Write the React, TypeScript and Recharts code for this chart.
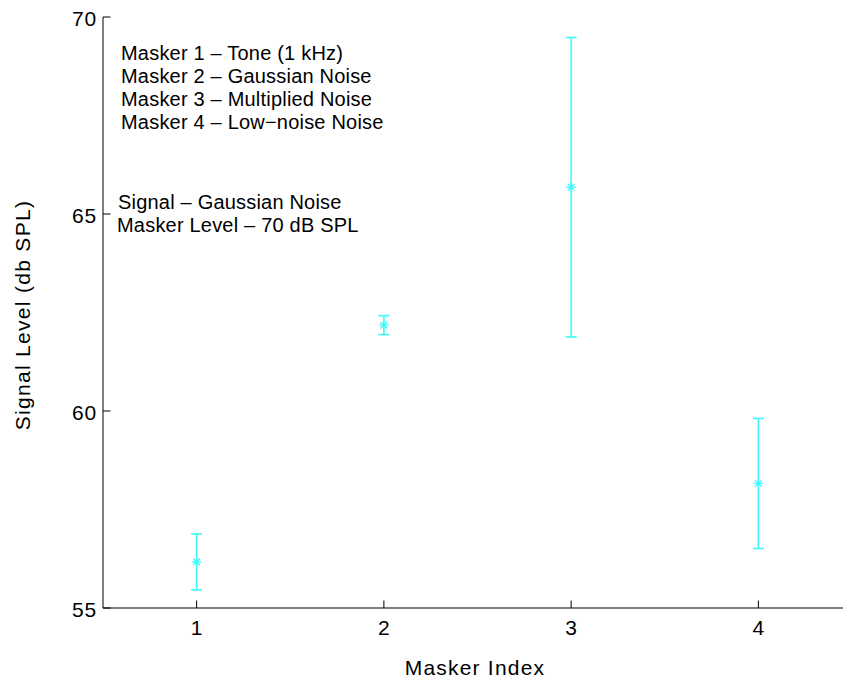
import { ScatterChart, Scatter, XAxis, YAxis, ErrorBar } from 'recharts'

const maskerIndex = [1, 2, 3, 4]
const signalLevel = [56.17, 62.18, 65.68, 58.16]
const errorHalf = [0.71, 0.24, 3.8, 1.65]
const xTicks = [1, 2, 3, 4]
const yTicks = [55, 60, 65, 70]
const maskerNotes = [
  'Masker 1 \u2013 Tone (1 kHz)',
  'Masker 2 \u2013 Gaussian Noise',
  'Masker 3 \u2013 Multiplied Noise',
  'Masker 4 \u2013 Low\u2212noise Noise',
]
const conditionNotes = ['Signal \u2013 Gaussian Noise', 'Masker Level \u2013 70 dB SPL']

const data = maskerIndex.map((x, i) => ({ x, y: signalLevel[i], err: errorHalf[i] }))

const FONT = '"Liberation Sans", Arial, Helvetica, sans-serif'
const CYAN = '#3ff9f9'
const TICK = 7.5

const BottomTick = (props: any) => {
  const { x, y, payload } = props
  return (
    <g>
      <line x1={x} y1={y} x2={x} y2={y - TICK} stroke="#000" />
      <text x={x} y={y + 27} textAnchor="middle" fontSize={21} fill="#000" fontFamily={FONT}>
        {payload.value}
      </text>
    </g>
  )
}

const TopTick = (props: any) => {
  const { x, y } = props
  return <line x1={x} y1={y} x2={x} y2={y + TICK} stroke="#000" />
}

const LeftTick = (props: any) => {
  const { x, y, payload } = props
  return (
    <g>
      <line x1={x} y1={y} x2={x + TICK} y2={y} stroke="#000" />
      <text x={x - 6} y={y + 8.5} textAnchor="end" fontSize={21} fill="#000" fontFamily={FONT} letterSpacing={0.8}>
        {payload.value}
      </text>
    </g>
  )
}

const RightTick = (props: any) => {
  const { x, y } = props
  return <line x1={x} y1={y} x2={x - TICK} y2={y} stroke="#000" />
}

const Asterisk = ({ cx, cy }: any) => {
  const r = 4.8
  const d = 3.4
  return (
    <g stroke={CYAN} strokeWidth={1.3}>
      <line x1={cx - r} y1={cy} x2={cx + r} y2={cy} />
      <line x1={cx} y1={cy - r} x2={cx} y2={cy + r} />
      <line x1={cx - d} y1={cy - d} x2={cx + d} y2={cy + d} />
      <line x1={cx - d} y1={cy + d} x2={cx + d} y2={cy - d} />
    </g>
  )
}

export default function App() {
  return (
    <div style={{ position: 'absolute', left: 0, top: 0, width: 843, height: 683, overflow: 'hidden', background: '#fff' }}>
      <ScatterChart width={900} height={683} margin={{ top: 17, right: 48, bottom: 0, left: 0 }}>
        <XAxis
          dataKey="x"
          type="number"
          domain={[0.5, 4.5]}
          ticks={xTicks}
          height={75}
          tickSize={0}
          tickMargin={0}
          tickLine={false}
          axisLine={{ stroke: '#000' }}
          tick={<BottomTick />}
        />
        <XAxis
          xAxisId="top"
          orientation="top"
          dataKey="x"
          type="number"
          domain={[0.5, 4.5]}
          ticks={xTicks}
          height={0}
          tickSize={0}
          tickMargin={0}
          tickLine={false}
          axisLine={{ stroke: '#000' }}
          tick={<TopTick />}
        />
        <YAxis
          dataKey="y"
          type="number"
          domain={[55, 70]}
          ticks={yTicks}
          width={103}
          tickSize={0}
          tickMargin={0}
          tickLine={false}
          axisLine={{ stroke: '#000' }}
          tick={<LeftTick />}
        />
        <YAxis
          yAxisId="right"
          orientation="right"
          dataKey="y"
          type="number"
          domain={[55, 70]}
          ticks={yTicks}
          width={0}
          tickSize={0}
          tickMargin={0}
          tickLine={false}
          axisLine={{ stroke: '#000' }}
          tick={<RightTick />}
        />
        <Scatter data={data} isAnimationActive={false} shape={(p: any) => <Asterisk cx={p.cx} cy={p.cy} />}>
          <ErrorBar dataKey="err" direction="y" width={5.5} strokeWidth={1.6} stroke={CYAN} isAnimationActive={false} />
        </Scatter>
      </ScatterChart>
      <svg width={843} height={683} style={{ position: 'absolute', left: 0, top: 0, pointerEvents: 'none' }}>
        <g fontFamily={FONT} fontSize={20} fill="#000" letterSpacing={0.2}>
          {maskerNotes.map((t, i) => (
            <text key={t} x={121} y={59.5 + i * 23}>
              {t}
            </text>
          ))}
          {conditionNotes.map((t, i) => (
            <text key={t} x={i === 0 ? 118 : 117} y={208.5 + i * 23.3}>
              {t}
            </text>
          ))}
        </g>
        <text x={475} y={675} textAnchor="middle" fontSize={21} fontFamily={FONT} fill="#000" letterSpacing={1.2}>
          Masker Index
        </text>
        <text
          x={0}
          y={0}
          transform="translate(30 315) rotate(-90)"
          textAnchor="middle"
          fontSize={21}
          fontFamily={FONT}
          fill="#000"
          letterSpacing={1.3}
        >
          Signal Level (db SPL)
        </text>
      </svg>
    </div>
  )
}
